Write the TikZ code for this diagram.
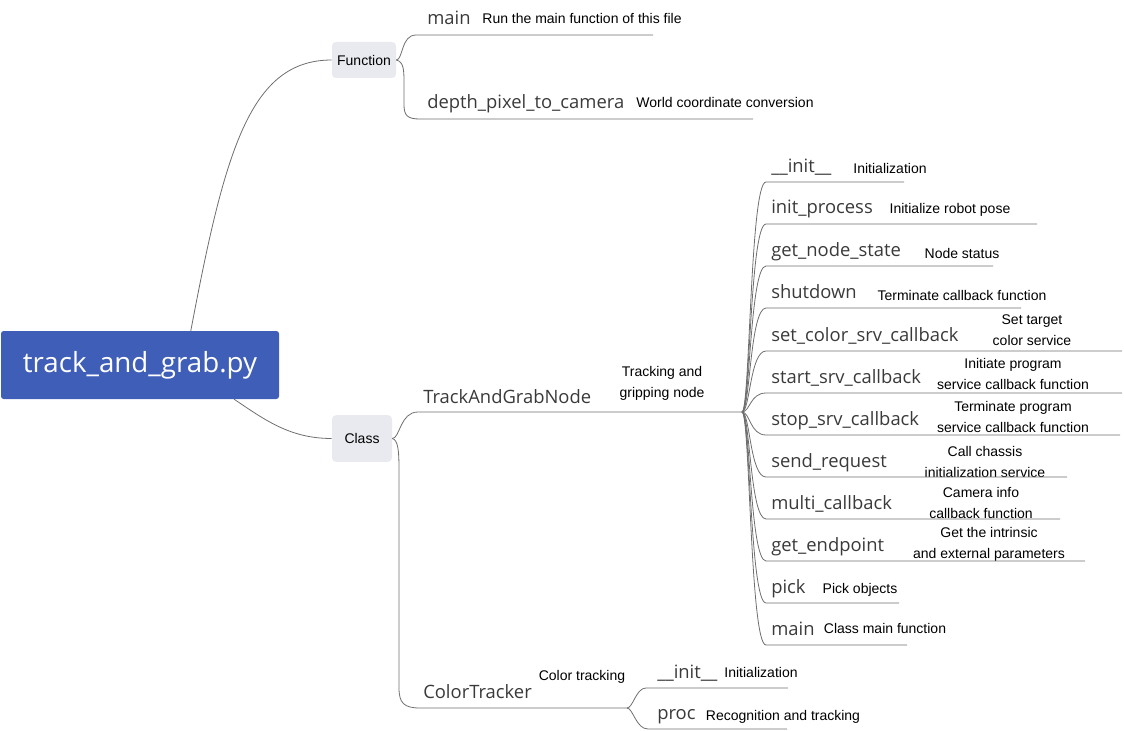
\documentclass[tikz,border=0pt]{standalone}
\usepackage{fontspec}
\setmainfont{Liberation Sans}
\newfontfamily\namefont{Open Sans}

\definecolor{rootblue}{HTML}{3F5EB8}
\definecolor{boxgray}{HTML}{E9EAEF}
\definecolor{linegray}{HTML}{6E6E6E}
\definecolor{nametext}{HTML}{3A3A3A}

\tikzset{
  rootbox/.style={fill=rootblue, rounded corners=2pt, text=white,
    font=\namefont\fontsize{20.8}{24}\selectfont,
    minimum width=208.5pt, minimum height=51pt, inner sep=0pt},
  groupbox/.style={fill=boxgray, rounded corners=3pt, inner sep=0pt,
    font=\fontsize{10.5}{12}\selectfont},
  fname/.style={anchor=base west, inner sep=0pt, text=nametext,
    font=\namefont\fontsize{13.8}{15}\selectfont},
  fdesc/.style={inner sep=0pt, align=center,
    font=\fontsize{10.5}{15.75}\selectfont},
  branch/.style={draw=linegray, line width=0.6pt},
}

\begin{document}
\begin{tikzpicture}[x=0.75pt, y=-0.75pt]
\useasboundingbox (0,0) rectangle (1124,731);

% Raiz
\node[rootbox] (root) at (140,365) {track\_and\_grab.py};

% Grupos
\node[groupbox, minimum width=48pt, minimum height=27pt] (fn) at (364,60) {Function};
\node[groupbox, minimum width=45pt, minimum height=35pt] (cls) at (362,438.5) {Class};
\draw[branch] (root.34) .. controls (225,150) and (250,60) .. (fn.west);
\draw[branch] (root.-20) .. controls (265,420) and (290,438.5) .. (cls.west);

% Funciones
\node[fname] (fmain) at (427,25) {main};
\node[fdesc] (fmaind) at (582,18) {Run the main function of this file};
\coordinate (fmainend) at (653,35);
\draw[branch] (fn.east) .. controls (403,60) and (401,35) .. (416,35) -- (fmainend);

\node[fname] (fdepth) at (427,109) {depth\_pixel\_to\_camera};
\node[fdesc] (fdepthd) at (725,102) {World coordinate conversion};
\coordinate (fdepthend) at (753,119);
\draw[branch] (fn.east) .. controls (404,62) and (404,70) .. (404,85)
  -- (404,105) .. controls (404,116) and (408,119) .. (420,119) -- (fdepthend);

% Clases
\node[fname] (tag) at (423,403) {TrackAndGrabNode};
\node[fdesc] (tagd) at (662,383) {Tracking and\\gripping node};
\coordinate (hub) at (742,412);
\draw[branch] (cls.east) .. controls (400,438.5) and (400,412) .. (418,412) -- (hub);

\node[fname] (ct) at (423,698) {ColorTracker};
\node[fdesc] (ctd) at (582,677) {Color tracking};
\coordinate (hubb) at (627,708);
\draw[branch] (cls.east) .. controls (398,440) and (399,450) .. (399,470)
  -- (399,688) .. controls (399,703) and (404,708) .. (420,708) -- (hubb);

% Metodos de TrackAndGrabNode
\foreach \i/\y/\nm/\ds/\dx/\dy/\ex in {
  1/182/\_\_init\_\_/Initialization/890/168/904,
  2/224/init\_process/Initialize robot pose/950/210/1037,
  3/266/get\_node\_state/Node status/962/253/993,
  4/308/shutdown/Terminate callback function/962/295/1021,
  5/351/set\_color\_srv\_callback/{Set target\\color service}/1032/330/1122,
  6/393/start\_srv\_callback/{Initiate program\\service callback function}/1013/374/1122,
  7/435/stop\_srv\_callback/{Terminate program\\service callback function}/1013/417/1120,
  8/477/send\_request/{Call chassis\\initialization service}/985/462/1067,
  9/519/multi\_callback/{Camera info\\callback function}/981/503/1060,
  10/561/get\_endpoint/{Get the intrinsic\\and external parameters}/989/544/1085,
  11/603/pick/Pick objects/860/590/899,
  12/645/main/Class main function/885/628/907}
{
  \node[fname] (m\i) at (771,\y-10) {\nm};
  \node[fdesc] (d\i) at (\dx,\dy) {\ds};
  \coordinate (e\i) at (\ex,\y);
  \draw[branch] (hub) .. controls (750,412) and (750,\y) .. (766,\y) -- (e\i);
}

% Metodos de ColorTracker
\node[fname] (c1) at (657,678) {\_\_init\_\_};
\node[fdesc] (c1d) at (761,672) {Initialization};
\coordinate (c1e) at (788,688);
\draw[branch] (hubb) .. controls (633,708) and (636,688) .. (646,688) -- (c1e);

\node[fname] (c2) at (657,719) {proc};
\node[fdesc] (c2d) at (783,717) {Recognition and tracking};
\coordinate (c2e) at (787,729);
\draw[branch] (hubb) .. controls (633,708) and (636,729) .. (648,729) -- (c2e);
\end{tikzpicture}
\end{document}
